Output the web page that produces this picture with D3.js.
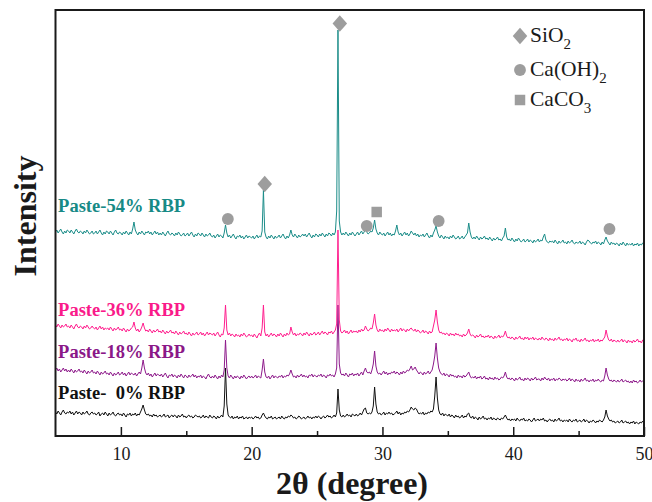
<!DOCTYPE html>
<html>
<head>
<meta charset="utf-8">
<script src="https://cdn.jsdelivr.net/npm/d3@7"></script>
<style>
  html, body { margin: 0; padding: 0; background: #fff; }
  svg { display: block; }
  text { font-family: "Liberation Serif", "Times New Roman", serif; }
</style>
</head>
<body>
<svg id="chart" width="652" height="502"></svg>
<script>
// XRD patterns, sampled every 0.1 degree from 5 to 50 (2-theta), arbitrary intensity units
const angleStart = 5;
const angleStep = 0.1;

const paste0 = [
  24,22,25,23,21,24,26,23,22,24,
  23,25,22,24,21,23,25,22,24,23,
  21,24,22,23,25,22,21,23,24,22,
  23,21,22,24,20,22,23,21,24,22,
  20,23,21,22,24,21,20,22,23,21,
  22,20,23,21,19,22,21,23,20,22,
  21,23,20,22,21,24,27,31,26,22,
  21,22,20,21,19,22,20,21,19,20,
  21,19,20,22,19,20,21,18,20,21,
  19,21,20,18,21,19,20,22,19,20,
  18,20,21,19,20,18,19,21,20,19,
  20,18,19,21,18,20,19,18,21,19,
  18,20,19,17,20,18,19,21,19,30,
  68,32,21,19,18,20,17,19,18,20,
  17,19,18,20,17,18,19,17,19,18,
  19,17,18,20,18,19,17,18,21,23,
  20,18,17,19,18,20,17,18,19,17,
  18,19,17,20,18,17,19,18,20,19,
  21,20,18,19,17,18,20,19,17,18,
  19,17,18,20,18,19,17,19,18,20,
  18,20,19,17,19,20,18,19,21,19,
  20,18,19,21,19,23,47,26,20,19,
  21,19,20,22,20,21,19,22,21,20,
  22,20,21,23,21,24,27,28,23,22,
  23,22,24,30,49,32,24,22,23,21,
  22,24,21,23,22,24,22,23,21,22,
  23,25,22,24,21,23,22,24,23,25,
  24,26,29,27,26,28,27,24,22,23,
  22,24,21,23,22,24,23,25,24,27,
  40,59,38,26,22,21,23,20,22,21,
  20,22,19,21,20,18,21,19,20,18,
  19,21,18,20,19,22,23,19,18,20,
  17,19,18,16,19,17,18,20,17,18,
  16,18,17,19,16,18,17,16,18,17,
  16,18,17,19,21,18,16,17,15,17,
  16,17,15,18,16,15,17,16,18,15,
  16,15,17,16,14,16,18,15,16,17,
  15,17,16,18,15,16,14,16,17,15,
  16,14,17,15,16,18,15,16,14,16,
  15,16,14,17,15,14,16,15,17,14,
  15,16,14,15,17,14,16,15,13,15,
  14,16,15,13,15,14,16,15,14,16,
  19,26,20,17,15,16,14,15,13,14,
  15,13,14,16,13,14,15,13,14,12,
  14,13,15,12,14,13,12,14,13,15,
  13
];

const paste18 = [
  66,68,65,67,64,66,68,65,67,64,
  66,64,67,65,63,66,64,65,67,64,
  65,63,66,64,62,65,63,64,66,63,
  64,62,65,63,61,64,62,63,65,62,
  63,61,64,62,60,63,61,62,64,61,
  62,64,61,63,60,62,64,61,63,62,
  61,63,60,62,64,62,68,76,68,63,
  61,63,60,62,59,61,63,60,62,61,
  60,62,59,61,63,60,58,61,60,62,
  59,61,60,58,61,59,62,60,58,61,
  60,58,61,59,60,62,59,61,58,60,
  59,61,58,60,59,57,60,62,59,58,
  60,58,61,59,57,60,58,61,59,66,
  96,68,60,58,61,59,57,60,58,60,
  59,57,60,58,61,59,57,59,60,58,
  60,58,59,61,58,60,59,58,66,77,
  64,59,58,60,57,59,61,58,60,59,
  58,60,59,61,58,60,59,61,60,62,
  66,62,59,60,58,61,59,60,62,59,
  61,59,60,58,61,60,62,59,61,60,
  59,61,60,62,59,61,60,58,61,60,
  62,60,61,59,62,68,131,72,63,61,
  62,60,63,61,59,62,61,63,60,62,
  61,63,60,62,64,61,65,68,64,63,
  64,62,66,72,85,70,64,62,63,61,
  63,65,62,64,61,63,62,64,63,65,
  62,64,63,61,64,62,65,63,64,66,
  65,67,70,66,67,69,66,64,62,64,
  63,61,64,62,63,65,62,64,66,72,
  80,93,78,68,64,62,61,63,60,62,
  61,59,62,60,61,59,60,58,61,59,
  60,58,61,59,60,62,64,60,58,59,
  58,60,57,59,58,60,57,58,60,57,
  58,56,59,57,58,56,59,57,58,56,
  57,59,58,60,64,59,57,58,56,58,
  57,55,58,56,57,59,56,57,55,58,
  56,58,57,55,58,56,57,59,56,57,
  57,55,58,56,59,57,56,58,55,57,
  56,58,55,57,56,58,57,55,57,56,
  57,55,56,58,55,57,56,54,57,55,
  56,54,57,55,56,58,55,56,54,56,
  55,57,54,56,55,57,55,54,56,55,
  60,68,61,57,55,56,54,56,55,54,
  56,54,55,57,54,55,56,54,55,53,
  55,53,56,54,55,53,54,56,54,55,
  55
];

const paste36 = [
  111,109,112,110,108,111,109,110,112,109,
  110,108,111,109,107,110,112,109,108,110,
  109,107,110,108,111,109,107,108,110,108,
  107,109,106,108,110,107,109,106,108,107,
  108,106,109,107,105,108,106,107,109,106,
  107,105,108,106,104,107,105,106,108,109,
  114,108,105,107,104,106,109,113,108,105,
  106,104,107,105,103,106,104,105,107,104,
  105,103,106,104,102,105,103,104,106,103,
  104,102,105,103,101,104,102,103,105,102,
  103,101,104,102,100,103,101,102,104,101,
  102,104,101,103,100,102,104,101,103,102,
  101,103,100,102,104,101,99,102,101,108,
  131,106,101,103,100,102,101,99,102,100,
  101,99,102,100,103,101,99,100,102,100,
  101,99,102,100,98,101,103,100,108,131,
  104,100,102,99,101,103,100,102,101,99,
  102,100,103,101,99,102,100,103,101,102,
  109,104,101,103,100,102,101,103,102,100,
  103,101,104,102,100,103,101,102,104,101,
  102,104,101,103,105,102,104,103,101,104,
  103,105,102,104,106,112,206,116,105,103,
  104,106,103,105,102,104,106,103,105,104,
  105,103,106,104,107,105,106,110,107,105,
  106,108,107,113,122,111,106,104,107,105,
  106,104,107,105,108,106,104,107,105,106,
  105,107,104,106,108,105,107,106,104,107,
  105,107,108,106,105,107,104,106,105,103,
  104,106,103,105,104,102,105,103,104,110,
  116,126,114,106,103,104,102,103,101,103,
  102,100,103,101,102,100,103,101,102,100,
  101,99,102,100,101,103,107,102,100,101,
  100,98,101,99,100,102,99,100,98,100,
  99,101,98,100,99,97,100,98,99,101,
  98,100,99,101,105,100,98,99,97,99,
  98,96,99,97,98,100,97,98,96,99,
  97,99,96,98,97,99,96,98,97,96,
  98,96,99,97,96,98,97,95,98,96,
  97,95,98,96,97,99,96,97,95,97,
  96,98,95,97,96,94,97,96,98,95,
  96,94,97,95,96,98,95,96,94,96,
  95,97,94,96,95,97,94,96,95,97,
  99,106,100,96,95,97,94,96,95,94,
  96,94,95,97,94,96,95,93,96,94,
  95,93,96,94,95,97,94,95,93,96,
  96
];

const paste54 = [
  204,206,203,205,207,204,202,205,203,206,
  205,203,206,204,202,205,207,204,203,205,
  204,202,205,203,206,204,202,203,205,202,
  203,205,202,204,206,203,201,204,202,205,
  204,202,205,203,201,204,206,203,202,204,
  203,201,204,202,205,203,201,204,202,207,
  214,206,203,201,204,202,205,203,201,204,
  203,205,202,204,201,203,205,202,204,201,
  203,201,204,202,200,203,205,202,201,203,
  202,200,203,201,204,202,200,201,203,200,
  201,203,200,202,204,201,199,202,200,203,
  202,200,203,201,199,202,200,201,203,200,
  199,201,198,200,202,199,201,200,198,203,
  211,203,199,201,198,200,202,199,197,200,
  199,201,198,200,197,199,201,198,200,199,
  198,200,197,199,201,198,200,199,205,246,
  204,199,197,200,198,201,199,197,200,198,
  199,201,198,200,202,199,197,200,198,201,
  206,201,199,202,200,198,201,199,200,202,
  200,202,199,201,203,200,198,201,199,202,
  201,199,202,200,203,201,199,202,200,203,
  202,200,203,201,204,225,406,215,204,201,
  203,201,204,202,200,203,201,204,202,200,
  202,204,201,203,205,202,204,207,204,202,
  203,205,204,208,216,207,203,201,204,202,
  201,203,200,202,204,201,203,200,202,201,
  205,211,204,201,203,200,202,204,201,203,
  200,202,205,203,201,203,200,202,199,201,
  200,202,199,201,203,200,198,201,199,203,
  206,210,204,200,198,201,199,197,200,198,
  199,197,200,198,201,199,197,198,200,197,
  198,200,197,199,201,203,213,204,199,197,
  199,197,200,198,196,199,197,198,200,197,
  198,196,199,197,195,198,196,197,199,196,
  197,195,198,200,208,199,196,197,195,198,
  196,194,197,195,198,196,194,195,197,194,
  195,197,194,196,195,193,196,194,195,197,
  194,196,195,199,202,196,194,193,195,194,
  195,193,196,194,192,195,193,194,196,193,
  194,192,195,193,194,196,193,192,194,193,
  193,195,192,194,193,191,194,196,195,193,
  192,194,193,195,192,194,193,191,194,192,
  196,199,195,193,191,194,192,193,191,193,
  192,190,193,191,194,192,190,193,191,192,
  191,193,190,192,191,193,190,192,191,193,
  192
];

const seriesNames  = ["Paste-  0% RBP", "Paste-18% RBP", "Paste-36% RBP", "Paste-54% RBP"];
const seriesData   = [paste0, paste18, paste36, paste54];
const seriesColors = ["#111111", "#8e1a8b", "#ff1f8e", "#1b8d89"];
const labelColors  = ["#111111", "#8b1888", "#fa1a8a", "#178a86"];
// label anchor: 2-theta and intensity of the text baseline
const labelAngle   = [5.2, 5.2, 5.2, 5.2];
const labelLevel   = [37, 78, 120, 224];

// Phase markers: 2-theta, intensity, phase
const markerAngle = [26.74, 21.0, 18.18, 28.8, 29.56, 34.3, 47.36];
const markerLevel = [412.5, 252, 217, 210, 224, 215, 207];
const markerPhase = ["SiO2", "SiO2", "CaOH2", "CaOH2", "CaCO3", "CaOH2", "CaOH2"];

const xMajorTicks = [10, 20, 30, 40, 50];
const xMinorTicks = [15, 25, 35, 45];

const svg = d3.select("#chart");
const plot = { left: 55.5, right: 644, top: 10, bottom: 436 };

const x = d3.scaleLinear().domain([5, 50]).range([plot.left, plot.right]);
const y = d3.scaleLinear().domain([0, 426]).range([plot.bottom, plot.top]);

const markerGray = "#9d9d9d";
// diamonds are squares turned by 45 degrees and stretched slightly upright
const symbolFor = {
  SiO2: d3.symbol().type(d3.symbolSquare).size(105),
  CaOH2: d3.symbol().type(d3.symbolCircle).size(110),
  CaCO3: d3.symbol().type(d3.symbolSquare).size(110)
};
const symbolShape = {
  SiO2: " scale(1,1.15) rotate(45)",
  CaOH2: "",
  CaCO3: ""
};

// patterns
const line = d3.line()
  .x((d, i) => x(angleStart + i * angleStep))
  .y(d => y(d));

seriesData.forEach((vals, k) => {
  svg.append("path")
    .datum(vals)
    .attr("fill", "none")
    .attr("stroke", seriesColors[k])
    .attr("stroke-width", 1)
    .attr("stroke-linejoin", "round")
    .attr("d", line);
});

// series labels
seriesNames.forEach((name, k) => {
  svg.append("text")
    .attr("x", x(labelAngle[k]))
    .attr("y", y(labelLevel[k]))
    .attr("fill", labelColors[k])
    .attr("font-size", 18.5)
    .attr("font-weight", "bold")
    .style("white-space", "pre")
    .text(name);
});

// phase markers
markerAngle.forEach((a, i) => {
  const phase = markerPhase[i];
  svg.append("path")
    .attr("d", symbolFor[phase]())
    .attr("fill", markerGray)
    .attr("transform", `translate(${x(a)},${y(markerLevel[i])})` + symbolShape[phase]);
});

// legend
const legendItems = [
  { phase: "SiO2", base: "SiO", sub: "2", cy: 36 },
  { phase: "CaOH2", base: "Ca(OH)", sub: "2", cy: 70 },
  { phase: "CaCO3", base: "CaCO", sub: "3", cy: 100 }
];
legendItems.forEach(it => {
  svg.append("path")
    .attr("d", symbolFor[it.phase]())
    .attr("fill", markerGray)
    .attr("transform", `translate(520,${it.cy})` + symbolShape[it.phase]);
  const t = svg.append("text")
    .attr("x", 530)
    .attr("y", it.cy + 6)
    .attr("fill", "#1a1a1a")
    .attr("font-size", 21.5);
  t.append("tspan").text(it.base);
  t.append("tspan").attr("font-size", 15).attr("dy", 7).text(it.sub);
});

// frame
svg.append("rect")
  .attr("x", plot.left).attr("y", plot.top)
  .attr("width", plot.right - plot.left)
  .attr("height", plot.bottom - plot.top)
  .attr("fill", "none")
  .attr("stroke", "#1a1a1a")
  .attr("stroke-width", 2);

// bottom axis, ticks pointing inward
const axisMajor = svg.append("g")
  .attr("transform", `translate(0,${plot.bottom})`)
  .call(d3.axisBottom(x).tickValues(xMajorTicks).tickSize(-9).tickPadding(11).tickFormat(d3.format("d")));
axisMajor.select(".domain").remove();
axisMajor.selectAll(".tick line").attr("stroke", "#1a1a1a").attr("stroke-width", 1.5);
axisMajor.selectAll(".tick text")
  .attr("font-family", "Liberation Serif, Times New Roman, serif")
  .attr("font-size", 18)
  .attr("fill", "#1a1a1a");

const axisMinor = svg.append("g")
  .attr("transform", `translate(0,${plot.bottom})`)
  .call(d3.axisBottom(x).tickValues(xMinorTicks).tickSize(-5).tickFormat(""));
axisMinor.select(".domain").remove();
axisMinor.selectAll(".tick line").attr("stroke", "#1a1a1a").attr("stroke-width", 1.5);

// axis titles
svg.append("text")
  .attr("x", 352)
  .attr("y", 494)
  .attr("text-anchor", "middle")
  .attr("font-size", 32)
  .attr("font-weight", "bold")
  .attr("fill", "#1a1a1a")
  .text("2θ (degree)");

svg.append("text")
  .attr("transform", "translate(36,216) rotate(-90)")
  .attr("text-anchor", "middle")
  .attr("font-size", 32)
  .attr("font-weight", "bold")
  .attr("fill", "#1a1a1a")
  .text("Intensity");
</script>
</body>
</html>
